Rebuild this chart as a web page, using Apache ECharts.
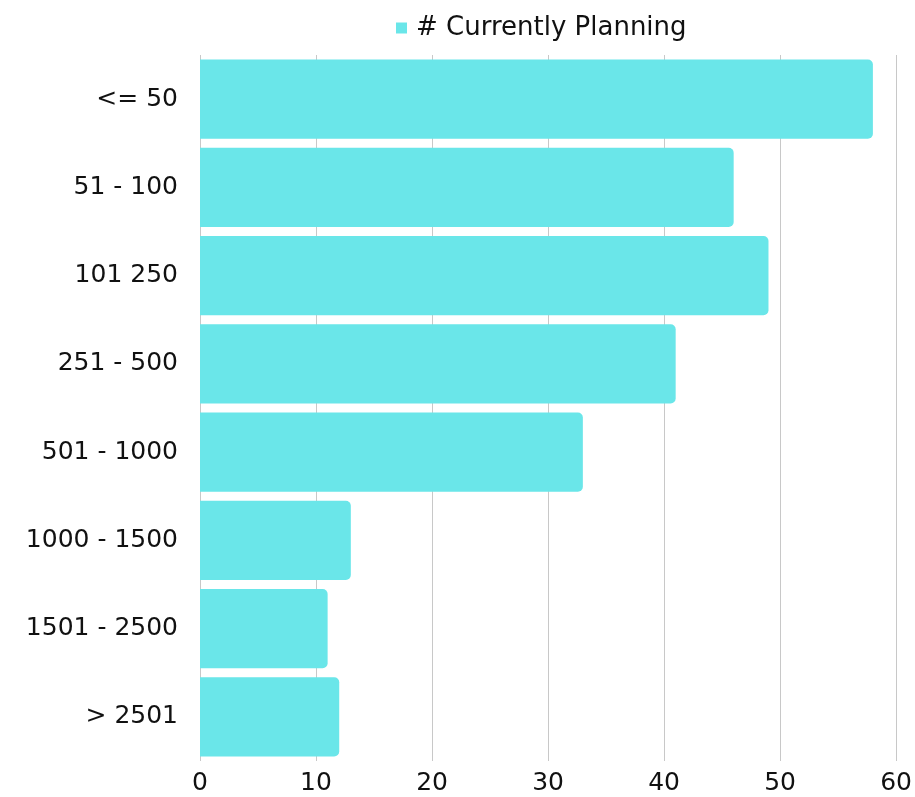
<!DOCTYPE html>
<html>
<head>
<meta charset="utf-8">
<script src="https://cdn.jsdelivr.net/npm/echarts@6/dist/echarts.min.js"></script>
<style>html,body{margin:0;padding:0;background:#fff;}#c{width:915px;height:797px;}</style>
</head>
<body>
<div id="c"></div>
<script>
const categories = ["<= 50", "51 - 100", "101 250", "251 - 500", "501 - 1000", "1000 - 1500", "1501 - 2500", "> 2501"];
const currentlyPlanning = [58, 46, 49, 41, 33, 13, 11, 12];
const seriesName = "# Currently Planning";
const xTicks = { min: 0, max: 60, interval: 10 };

const FONT = "DejaVu Sans";
const chart = echarts.init(document.getElementById('c'), null, { renderer: 'canvas' });
chart.setOption({
  animation: false,
  textStyle: { fontFamily: FONT },
  legend: {
    data: [seriesName],
    left: 391, top: 10,
    icon: 'rect', itemWidth: 11, itemHeight: 11, itemGap: 8,
    textStyle: { fontSize: 26, color: '#111', fontFamily: FONT, padding: [0, 0, 0, 4] }
  },
  grid: { left: 200, right: 16, top: 55, bottom: 36, containLabel: false },
  xAxis: {
    type: 'value', min: xTicks.min, max: xTicks.max, interval: xTicks.interval,
    axisLine: { show: false }, axisTick: { show: false },
    splitLine: { show: true, lineStyle: { color: '#c8c8c8', width: 1 } },
    axisLabel: { fontSize: 25, color: '#111', margin: 10, fontFamily: FONT }
  },
  yAxis: {
    type: 'category', data: categories, inverse: true,
    axisLine: { show: false }, axisTick: { show: false },
    axisLabel: { fontSize: 25, color: '#111', margin: 22, fontFamily: FONT }
  },
  series: [{
    name: seriesName, type: 'bar', data: currentlyPlanning,
    barCategoryGap: '10%',
    itemStyle: { color: '#6ae6e9', borderRadius: [0, 5, 5, 0] }
  }]
});
</script>
</body>
</html>
